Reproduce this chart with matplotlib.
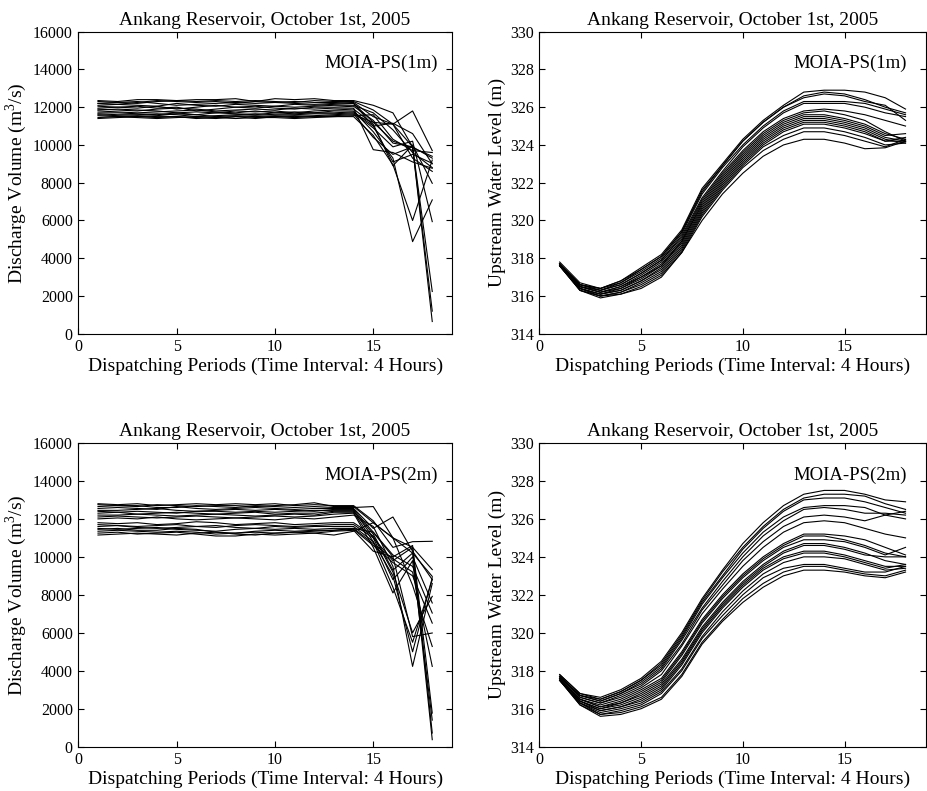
import matplotlib
matplotlib.use('Agg')
import matplotlib.pyplot as plt

plt.rcParams['font.family'] = ['Liberation Serif', 'DejaVu Serif']
plt.rcParams['mathtext.fontset'] = 'custom'
plt.rcParams['mathtext.rm'] = 'Liberation Serif'

periods = list(range(1, 19))
title_txt = 'Ankang Reservoir, October 1st, 2005'
xlabel_txt = 'Dispatching Periods (Time Interval: 4 Hours)'

# discharge, MOIA-PS(1m)
discharge_1m = [
    [12350,12300,12400,12400,12350,12400,12400,12450,12300,12450,12400,12450,12350,12350,12100,11700,9900,9300],
    [12300,12250,12200,12300,12350,12300,12350,12300,12350,12300,12250,12350,12300,12300,11850,11100,11800,9700],
    [12200,12250,12300,12200,12100,12150,12200,12250,12200,12250,12200,12150,12200,12250,11500,11100,9900,650],
    [12100,12150,12100,12050,12200,12100,12050,12150,12100,12050,12150,12100,12150,12200,11000,11150,10600,9000],
    [12050,12000,11950,12050,11900,12000,12100,12000,11950,12050,12000,12050,12100,12100,11700,10800,9600,8800],
    [11950,12000,12050,11950,12000,11800,11900,12000,12050,11950,11900,12000,12000,12050,11300,10100,9900,2240],
    [11900,11850,11800,11900,11950,11900,11800,11850,11900,11850,11950,11900,11950,11950,9750,9600,9100,8765],
    [11850,11900,11850,11800,11700,11600,11700,11800,11750,11800,11700,11800,11850,11900,11100,8900,10000,7970],
    [11800,11750,11700,11750,11800,11850,11750,11700,11800,11700,11750,11700,11800,11800,10700,9300,4880,7090],
    [11700,11700,11650,11600,11700,11750,11700,11650,11600,11700,11650,11700,11700,11750,11000,9100,9500,9030],
    [11650,11600,11600,11650,11600,11500,11550,11600,11650,11600,11600,11650,11650,11700,10900,9900,10200,5940],
    [11600,11550,11500,11550,11650,11600,11500,11550,11500,11550,11500,11550,11600,11650,10400,9500,9900,1200],
    [11550,11500,11550,11500,11500,11450,11400,11500,11550,11500,11550,11500,11550,11600,11200,11100,9300,8600],
    [11450,11500,11450,11400,11450,11500,11450,11400,11450,11450,11400,11450,11500,11500,10500,8950,6000,9200],
    [11400,11450,11500,11450,11500,11400,11450,11500,11400,11500,11450,11500,11500,11550,11600,10300,9700,9600],
    [12200,12150,12250,12350,12300,12250,12300,12200,12300,12250,12300,12250,12250,12200,11200,10200,9850,9400],
]

# upstream water level, MOIA-PS(1m)
level_1m = [
    [317.8,316.7,316.4,316.8,317.5,318.2,319.5,321.7,323.0,324.3,325.3,326.1,326.8,326.9,326.9,326.8,326.5,325.9],
    [317.7,316.6,316.4,316.8,317.4,318.1,319.4,321.5,322.9,324.2,325.2,326.0,326.6,326.8,326.7,326.4,326.0,325.7],
    [317.7,316.6,316.3,316.7,317.3,318.0,319.3,321.4,322.8,324.0,325.0,325.8,326.3,326.3,326.3,326.2,325.9,325.6],
    [317.7,316.6,316.3,316.6,317.2,317.9,319.2,321.2,322.6,323.9,324.9,325.7,326.2,326.2,326.2,326.0,325.7,325.5],
    [317.7,316.5,316.3,316.6,317.2,317.9,319.1,321.1,322.5,323.7,324.7,325.4,325.8,325.9,325.8,325.6,325.3,325.0],
    [317.7,316.5,316.2,316.5,317.1,317.8,319.0,321.0,322.4,323.6,324.6,325.3,325.7,325.8,325.6,325.3,324.7,324.2],
    [317.7,316.5,316.2,316.5,317.0,317.7,318.9,320.9,322.3,323.5,324.5,325.2,325.6,325.6,325.4,325.1,324.6,324.3],
    [317.7,316.5,316.2,316.4,317.0,317.6,318.9,320.8,322.2,323.4,324.4,325.1,325.5,325.5,325.3,325.0,324.5,324.6],
    [317.7,316.4,316.1,316.4,316.9,317.6,318.8,320.7,322.1,323.3,324.3,325.0,325.4,325.4,325.2,324.9,324.4,324.2],
    [317.6,316.4,316.1,316.3,316.8,317.5,318.7,320.6,322.0,323.2,324.2,324.9,325.3,325.3,325.1,324.8,324.3,324.1],
    [317.6,316.4,316.1,316.3,316.8,317.4,318.6,320.5,321.9,323.1,324.1,324.8,325.2,325.2,325.0,324.7,324.2,324.2],
    [317.6,316.4,316.0,316.2,316.7,317.3,318.5,320.4,321.8,323.0,324.0,324.7,325.1,325.1,324.9,324.6,324.2,324.4],
    [317.6,316.3,316.0,316.2,316.6,317.2,318.4,320.3,321.7,322.9,323.9,324.5,324.9,324.9,324.7,324.4,324.0,324.1],
    [317.6,316.3,316.0,316.1,316.5,317.1,318.3,320.2,321.6,322.8,323.7,324.3,324.7,324.7,324.5,324.2,323.9,324.3],
    [317.6,316.3,315.9,316.1,316.4,317.0,318.3,320.0,321.4,322.5,323.4,324.0,324.3,324.3,324.1,323.8,323.85,324.2],
    [317.7,316.6,316.4,316.7,317.4,318.1,319.4,321.6,322.9,324.2,325.2,326.0,326.5,326.7,326.6,326.3,326.1,325.3],
]

# discharge, MOIA-PS(2m)
discharge_2m = [
    [12800,12750,12800,12700,12750,12800,12750,12800,12750,12800,12700,12750,12700,12700,11900,10500,10800,10820],
    [12750,12700,12650,12750,12700,12650,12700,12700,12650,12700,12750,12850,12650,12650,11800,11000,10500,9330],
    [12650,12700,12700,12600,12600,12700,12650,12600,12700,12650,12600,12650,12600,12600,12650,11000,10200,8970],
    [12550,12600,12550,12500,12650,12550,12500,12550,12600,12550,12500,12550,12550,12550,11500,12100,10300,8800],
    [12450,12450,12500,12550,12450,12400,12450,12500,12450,12500,12450,12400,12500,12500,11300,10000,10600,1770],
    [12400,12350,12400,12350,12300,12400,12400,12350,12400,12350,12400,12450,12450,12450,11000,9800,10500,720],
    [12300,12350,12250,12300,12350,12300,12250,12300,12350,12250,12300,12300,12400,12400,11200,9300,10200,370],
    [12200,12200,12250,12200,12150,12200,12250,12200,12150,12200,12250,12200,12350,12350,10800,9000,5000,8900],
    [12100,12150,12100,12050,12100,12150,12100,12050,12100,12150,12100,12150,12250,12300,10500,8100,9800,1400],
    [12000,12050,12000,12100,12000,11950,12000,12050,12000,11950,12050,12000,12100,12200,11600,9500,4230,8600],
    [11800,11750,11800,11700,11750,11850,11800,11700,11750,11800,11700,11750,11800,11800,11100,9200,6000,7920],
    [11700,11650,11600,11650,11700,11600,11550,11650,11700,11650,11600,11650,11700,11700,11000,8800,10000,7570],
    [11600,11650,11550,11500,11550,11600,11650,11550,11500,11600,11550,11600,11600,11600,10800,8400,5500,8800],
    [11500,11450,11500,11550,11450,11400,11350,11450,11500,11450,11500,11450,11500,11500,11300,10100,9500,7040],
    [11450,11500,11400,11400,11500,11450,11300,11250,11350,11400,11350,11400,11400,11450,10600,9700,9000,6510],
    [11350,11400,11350,11300,11350,11300,11200,11250,11300,11250,11300,11250,11350,11400,10300,10000,5800,5990],
    [11250,11300,11200,11250,11300,11200,11100,11100,11200,11150,11200,11250,11150,11350,11800,11000,8500,5280],
    [11150,11200,11250,11200,11150,11250,11300,11200,11150,11250,11300,11350,11400,11500,10700,9900,9200,4230],
]

# upstream water level, MOIA-PS(2m)
level_2m = [
    [317.8,316.8,316.6,317.0,317.6,318.5,320.0,321.8,323.3,324.7,325.8,326.7,327.3,327.5,327.5,327.3,327.0,326.9],
    [317.8,316.8,316.5,316.9,317.5,318.4,319.9,321.7,323.2,324.5,325.6,326.5,327.1,327.3,327.3,327.2,326.8,326.5],
    [317.7,316.7,316.5,316.9,317.5,318.3,319.8,321.6,323.0,324.4,325.5,326.4,327.0,327.1,327.1,326.9,326.6,326.3],
    [317.7,316.7,316.4,316.8,317.4,318.2,319.7,321.5,322.9,324.2,325.3,326.1,326.6,326.7,326.7,326.6,326.2,326.0],
    [317.7,316.7,316.4,316.8,317.3,318.1,319.6,321.3,322.7,324.0,325.1,325.9,326.5,326.6,326.5,326.3,326.3,326.2],
    [317.7,316.6,316.3,316.7,317.2,318.0,319.4,321.2,322.5,323.8,324.8,325.6,326.1,326.2,326.1,325.9,326.2,326.4],
    [317.7,316.6,316.3,316.6,317.1,317.8,319.3,321.0,322.3,323.5,324.5,325.3,325.8,325.9,325.8,325.5,325.2,325.0],
    [317.6,316.5,316.2,316.5,317.0,317.6,319.0,320.7,322.0,323.1,324.0,324.7,325.2,325.2,325.1,324.9,324.5,324.1],
    [317.6,316.5,316.1,316.4,316.9,317.5,318.9,320.6,321.9,323.0,323.9,324.6,325.1,325.1,324.9,324.6,324.2,324.0],
    [317.6,316.5,316.1,316.3,316.8,317.4,318.8,320.5,321.8,322.9,323.8,324.5,324.9,324.9,324.8,324.5,324.1,324.5],
    [317.6,316.4,316.0,316.3,316.7,317.3,318.6,320.3,321.6,322.7,323.6,324.3,324.7,324.7,324.5,324.2,323.8,323.6],
    [317.6,316.4,316.0,316.2,316.6,317.2,318.5,320.2,321.5,322.6,323.5,324.2,324.6,324.6,324.4,324.1,324.0,324.0],
    [317.6,316.4,315.9,316.1,316.5,317.1,318.4,320.1,321.4,322.5,323.4,324.0,324.3,324.3,324.1,323.8,323.5,323.5],
    [317.5,316.3,315.9,316.1,316.4,317.0,318.3,320.0,321.3,322.4,323.3,323.9,324.2,324.2,324.0,323.7,323.4,323.6],
    [317.5,316.3,315.8,316.0,316.3,316.9,318.1,319.8,321.1,322.2,323.1,323.7,324.0,324.0,323.9,323.6,323.3,323.4],
    [317.5,316.3,315.7,315.9,316.2,316.8,318.0,319.7,320.9,322.0,322.9,323.4,323.6,323.6,323.4,323.2,323.2,323.5],
    [317.5,316.2,315.7,315.8,316.1,316.6,317.8,319.5,320.7,321.8,322.6,323.2,323.5,323.5,323.3,323.1,323.0,323.3],
    [317.5,316.2,315.6,315.7,316.0,316.5,317.7,319.4,320.6,321.6,322.4,323.0,323.3,323.3,323.2,323.0,322.9,323.2],
]

fig = plt.figure(figsize=(9.27, 7.91), dpi=100)

panels = [
    ([0.0845, 0.578, 0.403, 0.382], discharge_1m, 'MOIA-PS(1m)', 'q'),
    ([0.5818, 0.578, 0.417, 0.382], level_1m, 'MOIA-PS(1m)', 'h'),
    ([0.0845, 0.056, 0.403, 0.384], discharge_2m, 'MOIA-PS(2m)', 'q'),
    ([0.5818, 0.056, 0.417, 0.384], level_2m, 'MOIA-PS(2m)', 'h'),
]

for rect, lines, tag, kind in panels:
    ax = fig.add_axes(rect)
    for ln in lines:
        ax.plot(periods, ln, color='black', linewidth=0.8)
    ax.set_xlim(0, 19)
    ax.set_xticks([0, 5, 10, 15])
    if kind == 'q':
        ax.set_ylim(0, 16000)
        ax.set_yticks(range(0, 16001, 2000))
        ax.set_ylabel('Discharge Volume (m$^3$/s)', fontsize=14, labelpad=3)
        ax.text(18.3, 14300, tag, fontsize=13.5, ha='right', va='center')
    else:
        ax.set_ylim(314, 330)
        ax.set_yticks(range(314, 331, 2))
        ax.set_ylabel('Upstream Water Level (m)', fontsize=14, labelpad=3)
        ax.text(18.05, 328.3, tag, fontsize=13.5, ha='right', va='center')
    ax.set_title(title_txt, fontsize=14, pad=5)
    ax.set_xlabel(xlabel_txt, fontsize=14, labelpad=2)
    ax.tick_params(direction='in', top=True, right=True, labelsize=11.5, length=4, pad=4)
    for s in ax.spines.values():
        s.set_linewidth(0.8)

fig.savefig('out.png', dpi=100)
